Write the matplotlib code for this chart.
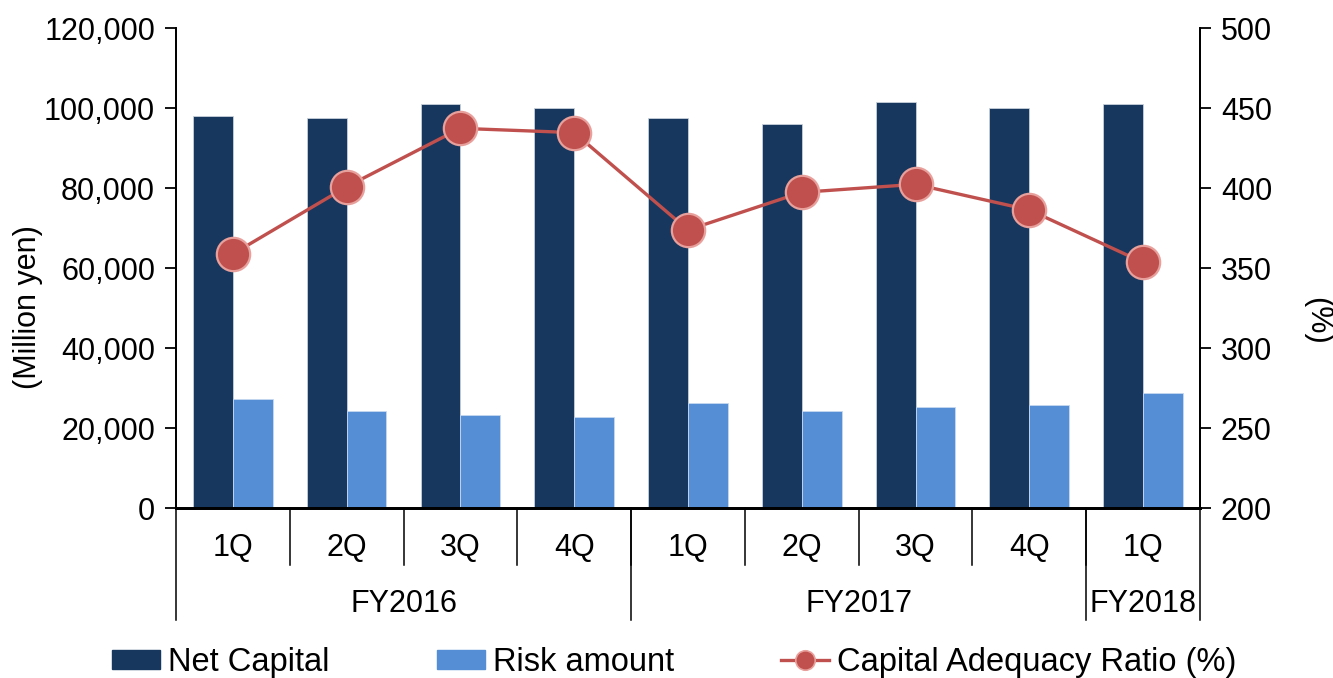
import matplotlib.pyplot as plt
from matplotlib.patches import Patch
from matplotlib.lines import Line2D
import matplotlib.transforms as mtransforms
import numpy as np

plt.rcParams['font.family'] = ['Liberation Sans', 'DejaVu Sans']

# === Data ===
quarters = ["1Q", "2Q", "3Q", "4Q", "1Q", "2Q", "3Q", "4Q", "1Q"]
years = ["FY2016", "FY2017", "FY2018"]
year_sizes = [4, 4, 1]
net_capital = [98100, 97600, 101000, 100100, 97500, 96100, 101500, 100000, 101000]
risk_amount = [27250, 24250, 23250, 22750, 26250, 24250, 25250, 25750, 28750]
car_ratio = [358.8, 400.8, 437.3, 434.6, 373.8, 397.3, 402.3, 386.3, 353.5]

DARK = "#17375E"
LIGHT = "#558ED5"
RED = "#C0504D"
FS = 22

fig = plt.figure(figsize=(13.33, 6.78), dpi=100)
ax = fig.add_axes([0.132, 0.2507, 0.7682, 0.708])
ax2 = ax.twinx()

x = np.arange(len(quarters))
w = 0.35
ax.bar(x - w / 2, net_capital, width=w, color=DARK, edgecolor="#c8d0dc", linewidth=0.6, zorder=2)
ax.bar(x + w / 2, risk_amount, width=w, color=LIGHT, edgecolor="#c8d8f0", linewidth=0.6, zorder=2)
ax2.plot(x, car_ratio, color=RED, linewidth=2.4, marker="o", markersize=24,
         markerfacecolor=RED, markeredgecolor="#E8A09C", markeredgewidth=1.6, zorder=3)

ax.set_xlim(-0.5, len(quarters) - 0.5)
ax.set_ylim(0, 120000)
ax.set_yticks(range(0, 120001, 20000))
ax.set_yticklabels([f"{v:,}" for v in range(0, 120001, 20000)], fontsize=FS)
ax2.set_ylim(200, 500)
ax2.set_yticks(range(200, 501, 50))
ax2.set_yticklabels([str(v) for v in range(200, 501, 50)], fontsize=FS)

for a in (ax, ax2):
    a.spines["top"].set_visible(False)
    a.spines["bottom"].set_linewidth(2)
    a.spines["left"].set_linewidth(1.3)
    a.spines["right"].set_linewidth(1.3)
    a.tick_params(axis="y", direction="out", length=8, width=1.3, pad=7)
ax.set_xticks([])

ax.set_ylabel("(Million yen)", fontsize=FS, va="center")
ax.yaxis.set_label_coords(-0.1445, 0.419)
ax2.set_ylabel("(%)", fontsize=FS, rotation=270, va="center")
ax2.yaxis.set_label_coords(1.114, 0.39)

# === Hierarchical x axis ===
trans = mtransforms.blended_transform_factory(ax.transData, ax.transAxes)
short_y, long_y = -0.119, -0.233
for i in range(1, len(quarters)):
    ax.plot([i - 0.5, i - 0.5], [0, short_y], color="black", lw=1.1, transform=trans, clip_on=False)
for i, q in enumerate(quarters):
    ax.text(i, -0.083, q, transform=trans, ha="center", va="center", fontsize=FS)

start = -0.5
for yr, n in zip(years, year_sizes):
    end = start + n
    ax.text((start + end) / 2, -0.20, yr, transform=trans, ha="center", va="center", fontsize=FS)
    start = end
bounds = np.concatenate([[-0.5], -0.5 + np.cumsum(year_sizes)])
for b in bounds:
    ax.plot([b, b], [0, long_y], color="black", lw=1.1, transform=trans, clip_on=False)

# === Legend ===
handles = [
    Patch(facecolor=DARK, edgecolor=DARK),
    Patch(facecolor=LIGHT, edgecolor=LIGHT),
    Line2D([0], [0], color=RED, lw=2.4, marker="o", markersize=14,
           markerfacecolor=RED, markeredgecolor="#E8A09C", markeredgewidth=1.2),
]
labels = ["Net Capital", "Risk amount", "Capital Adequacy Ratio (%)"]
fig.legend(handles, labels, loc="center", bbox_to_anchor=(0.506, 0.023), ncol=3,
           frameon=False, fontsize=23.5, handlelength=1.47, handleheight=0.55,
           handletextpad=0.25, columnspacing=3.28, borderaxespad=0)

fig.savefig("out.png", dpi=100)
